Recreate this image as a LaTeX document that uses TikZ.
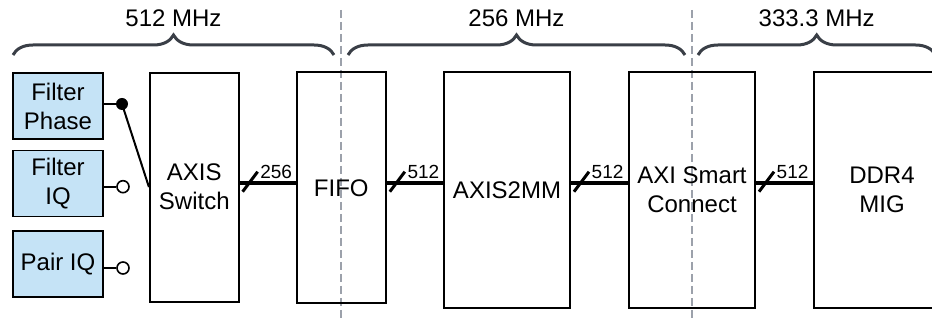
\documentclass[tikz,border=0pt]{standalone}
\usepackage{fontspec}
\setmainfont{Liberation Sans}
\usetikzlibrary{positioning,calc,decorations.pathreplacing}
\definecolor{srcblue}{HTML}{C5E3F6}
\definecolor{bracegray}{HTML}{3A3F47}
\definecolor{domaingray}{HTML}{9CA1AB}

\begin{document}
\begin{tikzpicture}[x=1pt, y=1pt,
  source/.style={rectangle, draw, line width=1.6pt, fill=srcblue,
                 minimum width=90, minimum height=66, align=center,
                 inner sep=1pt, font=\fontsize{24}{29}\selectfont},
  block/.style={rectangle, draw, line width=2pt, minimum width=#1,
                align=center, inner sep=1pt, font=\fontsize{24}{29}\selectfont},
  block/.default=126,
  bus/.style={line width=4pt},
  busslash/.style={line width=3pt},
  buswidth/.style={font=\fontsize{19}{19}\selectfont, inner sep=0pt, anchor=south west},
  opendot/.style={circle, draw, line width=1.6pt, fill=white, minimum size=12, inner sep=0pt},
  fulldot/.style={circle, fill, minimum size=12, inner sep=0pt},
  wire/.style={line width=2pt},
  clockbrace/.style={decorate, decoration={brace, amplitude=20pt},
                     line width=3pt, color=bracegray},
  header/.style={font=\fontsize{24}{29}\selectfont, inner sep=0pt},
  domain line/.style={line width=2pt, color=domaingray, dash pattern=on 8pt off 4pt}
]
  \clip (0,0) rectangle (932,320);

  % Clock domains
  \draw[domain line] (341,310) -- (341,0);
  \draw[domain line] (692,310) -- (692,0);

  \draw[clockbrace] (13,265) -- (334,265);
  \draw[clockbrace] (348,265) -- (685,265);
  \draw[clockbrace] (698,265) -- (935.4,265);
  \node[header] (clkA) at (173.5,301.5) {512 MHz};
  \node[header] (clkB) at (516.5,301.5) {256 MHz};
  \node[header] (clkC) at (816.7,301.5) {333.3 MHz};

  % Sources
  \node[source] (fphase) at (58,214) {Filter\\Phase};
  \node[source] (fiq) at (58,136.3) {Filter\\IQ};
  \node[source] (pair) at (58,56.2) {Pair IQ};

  % Data path
  \node[block=88.7, minimum height=229] (sw) at (194.3,132.9) {AXIS\\Switch};
  \node[block=89, minimum height=231] (fifo) at (341.3,132) {FIFO};
  \node[block, minimum height=235.5] (s2mm) at (507,129.8) {AXIS2MM};
  \node[block, minimum height=235.5] (smc) at (692,129.8) {AXI Smart\\Connect};
  \node[block=136, minimum height=235.5] (mig) at (882,129.8) {DDR4\\MIG};

  % Switch inputs
  \node[fulldot] (sel) at (122,216) {};
  \node[opendot] (pfiq) at (123,133.3) {};
  \node[opendot] (ppair) at (123,52) {};

  \draw[wire] (fphase.east |- sel) -- (sel.center);
  \draw[wire] (sel.center) -- (sw.west);
  \draw[wire] (fiq.east |- pfiq) -- (pfiq.west);
  \draw[wire] (pair.east |- ppair) -- (ppair.west);

  % Buses
  \coordinate (busline) at (0,137);
  \foreach \a/\b/\w in {sw/fifo/256, fifo/s2mm/512, s2mm/smc/512, smc/mig/512} {
    \draw[bus] (\a.east |- busline) -- (\b.west |- busline);
    \draw[busslash] ($(\a.east |- busline)+(3,-8.7)$) -- ++(15,20);
    \node[buswidth] at ($(\a.east |- busline)+(20.5,4)$) {\w};
  }
\end{tikzpicture}
\end{document}
